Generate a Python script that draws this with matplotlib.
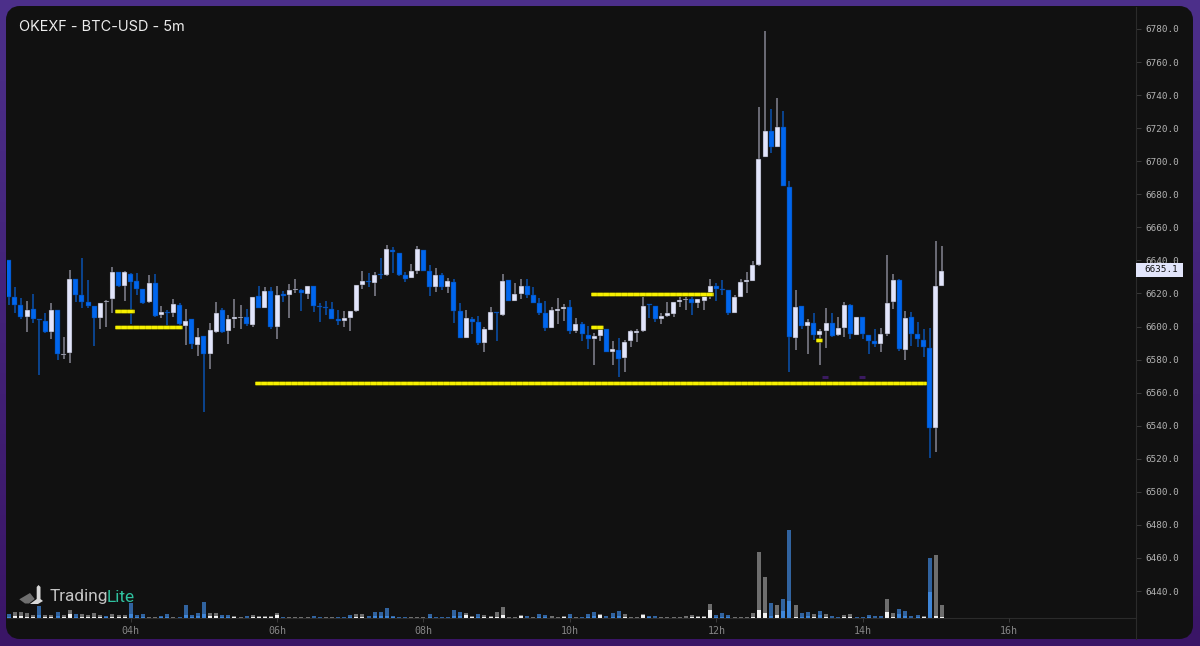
import matplotlib
matplotlib.use("Agg")
import matplotlib.pyplot as plt
import matplotlib.patheffects as pe
import numpy as np
from matplotlib.patches import FancyBboxPatch, Polygon, Rectangle
from matplotlib.transforms import blended_transform_factory

# candles, 5 minute bars, first bar is 20 bars before 04h
opens = [
    6640.2, 6617.7, 6613.0, 6606.0, 6610.8, 6604.7, 6603.1, 6596.9, 6610.0, 6582.6,
    6583.8, 6628.5, 6618.9, 6614.6, 6612.4, 6605.2, 6614.6, 6616.4, 6633.0, 6624.7,
    6632.0, 6627.5, 6622.5, 6614.6, 6626.1, 6606.8, 6608.8, 6608.0, 6613.0, 6600.5,
    6604.3, 6588.8, 6594.3, 6583.4, 6596.7, 6610.2, 6597.3, 6604.7, 6605.4, 6606.0,
    6600.9, 6618.5, 6611.4, 6621.5, 6599.7, 6619.5, 6618.9, 6621.9, 6622.1, 6619.7,
    6624.5, 6612.2, 6611.8, 6610.8, 6604.5, 6603.1, 6605.0, 6609.4, 6625.3, 6627.5,
    6626.5, 6631.6, 6631.2, 6646.1, 6644.7, 6631.2, 6629.4, 6633.6, 6646.3, 6633.6,
    6624.1, 6631.0, 6623.9, 6627.1, 6609.4, 6593.3, 6604.7, 6602.9, 6589.8, 6598.1,
    6608.6, 6606.8, 6627.9, 6615.6, 6619.5, 6624.7, 6618.9, 6614.4, 6608.4, 6599.3,
    6609.4, 6610.6, 6612.0, 6597.1, 6601.3, 6594.9, 6592.5, 6594.3, 6598.5, 6584.6,
    6586.0, 6580.8, 6591.1, 6596.1, 6597.1, 6613.7, 6612.5, 6604.6, 6606.4, 6607.8,
    6615.1, 6616.1, 6616.5, 6614.1, 6615.7, 6618.5, 6624.8, 6622.8, 6622.1, 6608.4,
    6617.9, 6627.2, 6627.8, 6637.5, 6702.3, 6718.4, 6708.6, 6721.0, 6684.4, 6592.9,
    6612.3, 6600.2, 6602.4, 6594.9, 6597.3, 6602.0, 6594.7, 6599.2, 6613.3, 6595.1,
    6605.8, 6594.7, 6591.1, 6589.7, 6595.5, 6614.7, 6628.4, 6586.0, 6606.0, 6595.7,
    6592.1, 6587.3, 6538.8, 6624.8,
]
highs = [
    6640.2, 6623.7, 6617.1, 6615.4, 6619.7, 6604.7, 6608.0, 6614.4, 6610.0, 6593.9,
    6634.2, 6628.5, 6641.7, 6628.1, 6612.4, 6614.4, 6615.8, 6635.8, 6633.0, 6633.4,
    6632.2, 6632.2, 6622.5, 6631.4, 6631.8, 6612.6, 6610.0, 6616.7, 6614.4, 6610.8,
    6604.3, 6598.9, 6594.3, 6601.9, 6614.6, 6611.0, 6607.0, 6616.4, 6612.8, 6610.4,
    6618.1, 6624.5, 6623.7, 6623.9, 6624.5, 6621.5, 6625.5, 6628.5, 6622.5, 6624.7,
    6624.7, 6614.0, 6615.2, 6614.8, 6610.0, 6609.4, 6609.6, 6625.3, 6633.4, 6632.2,
    6632.8, 6641.5, 6649.1, 6647.9, 6644.7, 6632.8, 6637.6, 6648.7, 6646.3, 6637.2,
    6635.6, 6632.2, 6629.2, 6628.5, 6614.4, 6610.0, 6605.6, 6606.4, 6599.9, 6612.0,
    6608.8, 6631.6, 6628.1, 6626.5, 6628.5, 6628.5, 6623.7, 6617.1, 6615.6, 6611.6,
    6617.1, 6613.4, 6616.0, 6605.2, 6602.5, 6600.4, 6595.9, 6600.0, 6598.5, 6591.3,
    6593.3, 6591.9, 6597.9, 6598.3, 6617.7, 6613.7, 6612.5, 6608.0, 6614.9, 6615.1,
    6617.7, 6618.1, 6618.1, 6616.5, 6620.5, 6628.8, 6626.2, 6628.2, 6622.1, 6619.1,
    6628.6, 6632.8, 6639.7, 6732.9, 6778.7, 6731.5, 6738.0, 6730.5, 6688.0, 6622.1,
    6612.5, 6604.4, 6608.4, 6598.3, 6611.1, 6608.0, 6606.0, 6614.7, 6613.5, 6605.8,
    6605.8, 6594.9, 6598.5, 6598.9, 6643.1, 6631.6, 6628.6, 6609.6, 6609.0, 6603.0,
    6598.3, 6598.9, 6651.8, 6648.8,
]
lows = [
    6613.0, 6608.4, 6604.3, 6596.9, 6602.3, 6570.7, 6595.9, 6592.4, 6579.7, 6580.5,
    6578.1, 6615.0, 6611.2, 6611.2, 6588.4, 6598.5, 6599.5, 6608.0, 6623.7, 6615.2,
    6601.5, 6619.1, 6613.4, 6614.4, 6606.0, 6605.0, 6599.3, 6605.6, 6598.3, 6589.0,
    6586.6, 6582.0, 6548.5, 6574.5, 6596.3, 6596.3, 6589.6, 6599.1, 6598.7, 6600.3,
    6599.9, 6611.4, 6611.4, 6598.7, 6592.2, 6615.0, 6605.2, 6620.1, 6609.6, 6616.7,
    6608.8, 6602.5, 6606.8, 6604.3, 6600.9, 6599.9, 6597.5, 6609.0, 6622.5, 6623.7,
    6618.5, 6628.5, 6630.8, 6632.2, 6630.8, 6626.9, 6629.4, 6631.6, 6633.8, 6618.5,
    6621.1, 6622.1, 6620.1, 6602.3, 6592.8, 6593.3, 6595.5, 6588.6, 6584.4, 6598.1,
    6591.4, 6606.4, 6615.4, 6615.6, 6616.7, 6617.5, 6614.0, 6607.2, 6597.5, 6599.3,
    6601.3, 6603.5, 6595.5, 6596.3, 6591.0, 6586.6, 6577.0, 6591.3, 6584.4, 6577.0,
    6569.7, 6572.3, 6587.9, 6590.9, 6596.9, 6605.0, 6602.8, 6601.8, 6606.0, 6606.0,
    6612.1, 6610.2, 6607.0, 6611.1, 6609.8, 6616.9, 6615.7, 6619.3, 6607.0, 6608.4,
    6617.9, 6620.5, 6627.8, 6636.5, 6702.3, 6704.7, 6708.6, 6685.0, 6572.5, 6585.8,
    6598.6, 6583.2, 6591.9, 6576.6, 6587.3, 6593.5, 6594.5, 6593.9, 6592.7, 6594.9,
    6592.5, 6583.4, 6587.9, 6584.4, 6594.5, 6610.8, 6585.0, 6579.8, 6588.3, 6587.9,
    6581.8, 6520.3, 6524.3, 6624.8,
]
closes = [
    6618.1, 6613.2, 6606.0, 6610.0, 6604.5, 6603.9, 6596.9, 6610.0, 6583.4, 6583.6,
    6628.5, 6619.1, 6614.8, 6612.4, 6605.4, 6614.4, 6615.6, 6633.2, 6624.7, 6632.8,
    6626.7, 6622.7, 6614.0, 6626.1, 6606.6, 6608.8, 6608.2, 6613.6, 6601.3, 6603.5,
    6589.2, 6593.9, 6583.4, 6598.1, 6608.4, 6596.5, 6604.7, 6605.6, 6606.0, 6601.3,
    6617.7, 6611.4, 6621.7, 6599.7, 6619.1, 6618.7, 6621.9, 6622.5, 6620.1, 6624.5,
    6612.2, 6611.6, 6611.2, 6604.3, 6603.3, 6605.2, 6609.6, 6625.3, 6627.3, 6626.7,
    6631.2, 6631.0, 6646.9, 6644.9, 6631.2, 6628.9, 6633.6, 6646.9, 6633.8, 6624.1,
    6631.0, 6623.7, 6627.3, 6609.4, 6593.3, 6605.0, 6602.9, 6589.8, 6598.3, 6608.6,
    6608.0, 6627.7, 6615.6, 6619.5, 6624.7, 6618.9, 6614.4, 6608.4, 6599.1, 6609.8,
    6610.6, 6612.0, 6597.3, 6601.3, 6595.5, 6592.5, 6594.5, 6599.0, 6584.8, 6586.2,
    6580.6, 6590.5, 6597.5, 6597.1, 6612.7, 6612.9, 6604.6, 6606.4, 6608.0, 6615.1,
    6616.1, 6616.7, 6614.1, 6616.5, 6618.5, 6624.6, 6622.6, 6622.0, 6608.4, 6617.9,
    6627.0, 6628.0, 6637.5, 6701.3, 6718.4, 6708.6, 6721.0, 6685.0, 6593.5, 6611.7,
    6600.4, 6602.6, 6594.9, 6597.5, 6602.2, 6594.3, 6598.9, 6613.3, 6595.7, 6605.6,
    6595.3, 6591.3, 6589.7, 6595.5, 6614.1, 6628.2, 6586.4, 6605.4, 6595.3, 6592.3,
    6587.7, 6538.8, 6624.6, 6633.6,
]

# volume: total, the bright inner part, and side (b = blue, g = grey)
vol_total = [
    4, 6, 6, 5, 3, 12, 3, 3, 6, 3, 8, 4, 4, 3, 5, 3, 2, 4, 3, 3,
    15, 3, 4, 1.5, 1.5, 2, 4, 1.5, 1.5, 13, 3.5, 5.5, 16, 5, 5, 3, 3, 2, 1, 2,
    3, 2, 2, 2, 5, 1, 1, 1, 1, 1, 2, 1.5, 1, 1, 1, 1, 3, 4, 4, 2,
    6, 6, 10, 2.5, 1.5, 1.5, 1, 1, 1, 4, 1.5, 1, 1, 8.5, 6, 5, 2, 4, 3, 2,
    6, 11, 1, 1, 3, 2, 1.5, 4, 3.5, 2, 1, 2, 4, 1.5, 1.5, 4, 6, 4, 2.5, 5,
    7, 4, 1.5, 1, 4, 2.5, 2, 1, 1, 1, 1.5, 2, 3.5, 2.5, 2.5, 14, 3.5, 5, 3.5, 1,
    1, 1, 5, 66, 41, 15, 13, 19, 88, 13, 5, 6.5, 4, 7, 4, 2, 1, 3, 4, 1,
    1, 3, 2, 2, 19, 5, 9, 7, 2.5, 3, 2.5, 60, 63, 13,
]
vol_inner = [
    1, 2, 2, 1.5, 1, 3, 1, 1, 2, 1, 4, 1, 1, 1, 1.5, 1, 1, 1.5, 1, 1,
    4, 1, 1, 0.5, 0.5, 1, 1, 0.5, 0.5, 3, 1, 2, 4, 2, 2, 1, 1, 1, 0.5, 0.5,
    1, 1, 1, 1, 3, 0.5, 0.5, 0.5, 0.5, 0.5, 0.5, 0.5, 0.5, 0.5, 0.5, 0.5, 1, 1, 1, 0.5,
    2, 2, 2, 1, 0.5, 0.5, 0.5, 0.5, 0.5, 1, 0.5, 0.5, 0.5, 2, 2, 3, 1, 1, 1, 1,
    1.5, 3, 0.5, 0.5, 2, 0.5, 0.5, 1, 1, 0.5, 0.5, 1, 1, 0.5, 0.5, 1, 2, 3, 0.5, 1,
    2, 1, 0.5, 0.5, 3, 1, 0.5, 0.5, 0.5, 0.5, 0.5, 0.5, 1, 1, 1, 8, 1, 1.5, 1, 0.5,
    0.5, 0.5, 1, 8, 5, 2, 3, 7, 17, 1, 1, 2, 1, 3, 1, 0.5, 0.5, 1, 1, 0.5,
    0.5, 1, 0.5, 0.5, 6, 1, 4, 2, 0.5, 1, 1, 26, 2, 1,
]
vol_side = (
    "bggggbggbg" "gbggggbggg" "bbbggbbgbb" "bbbggbbggb" "gggggbggggb"
    "bggbbbggbb" "bbbbbgggbb" "bbbbggbggg" "ggggbgbbgg" "gbgbbbgbbb"
    "ggggbbgggg" "gggggbbbgg" "ggggbgbbgb" "bgbgbbggbb" "bbbggbbbbg" "bgg"
)

# yellow levels: price, start hour, end hour
level_prices = [6609.6, 6600.0, 6565.6, 6619.7, 6600.0, 6591.8]
level_starts = [3.790, 3.790, 5.702, 10.284, 10.284, 13.362]
level_ends = [4.041, 4.705, 14.861, 11.951, 10.448, 13.444]

# small purple marks
mark_prices = [6569.5, 6569.5]
mark_starts = [13.448, 13.949]
mark_ends = [13.530, 14.031]

price_ticks = list(range(6440, 6781, 20))
hour_ticks = [4, 6, 8, 10, 12, 14, 16]
hour_labels = ["04h", "06h", "08h", "10h", "12h", "14h", "16h"]
last_price = 6635.1

W, H = 1200, 646
PX = 72 / 100  # points per pixel

BG = "#111111"
WHITE = "#e2e5fb"
BLUE = "#0066ee"

fig = plt.figure(figsize=(W / 100, H / 100), dpi=100)

# purple frame + dark card
chrome = fig.add_axes([0, 0, 1, 1], zorder=0)
chrome.set_xlim(0, W)
chrome.set_ylim(H, 0)
chrome.axis("off")
top = np.array([0x4c, 0x2f, 0x8a])
bottom = np.array([0x3a, 0x15, 0x66])
grad = np.linspace(0, 1, 64)[:, None, None] * (bottom - top) + top
chrome.imshow(grad / 255, extent=(0, W, H, 0), aspect="auto")
chrome.add_patch(FancyBboxPatch((13, 13), 1173, 619, boxstyle="round,pad=0,rounding_size=7",
                                fc=BG, ec=BG, lw=14 * PX))
chrome.set_xlim(0, W)
chrome.set_ylim(H, 0)

# logo
chrome.add_patch(Polygon([(19.3, 599.3), (30, 593), (34.7, 599), (29, 603.5), (25, 603.5)], fc="#6f6f6f", ec="none"))
chrome.add_patch(Polygon([(36.7, 587), (38.5, 585), (40.5, 587), (40.5, 599), (43, 601), (38, 604), (30, 604),
                          (36.7, 599)], fc="#d8d8d8", ec="none"))
chrome.text(49.5, 597, "Trading", color="#c4c4c4", fontsize=12.4, family="Roboto", va="center", ha="left")
chrome.text(107, 597, "Lite", color="#2fc19f", fontsize=12.4, family="Roboto", va="center", ha="left")
chrome.text(19, 27, "OKEXF - BTC-USD - 5m", color="#ececec", fontsize=10.45, family="Inter", va="center", ha="left")

# main price axes, same pixel box for volume
x0, x1, y0, y1 = 7, 1136, 7, 639
ax = fig.add_axes([x0 / W, 1 - y1 / H, (x1 - x0) / W, (y1 - y0) / H], zorder=2)
ax.patch.set_alpha(0)
ax.set_xlim(2.310, 17.734)
ax.set_ylim(6411.0, 6793.3)

vol = ax.twinx()
vol.set_zorder(1)
ax.set_zorder(2)
vol.patch.set_alpha(0)
vol.set_ylim(-21, 611)
vol.axis("off")

times = 4 + (np.arange(len(opens)) - 20) / 12
o, h, l, c = map(np.array, (opens, highs, lows, closes))
up = c >= o
body_w = 5.0 / 73.2
vol_w = 4.0 / 73.2

ax.vlines(times[up], l[up], h[up], color="#80808c", lw=1.6 * PX, zorder=3)
ax.vlines(times[~up], l[~up], h[~up], color="#0a4fa8", lw=1.6 * PX, zorder=3)
ax.bar(times[up], (c - o)[up], bottom=o[up], width=body_w, color=WHITE,
       edgecolor="#33333a", lw=0.3, zorder=4)
ax.bar(times[~up], (c - o)[~up], bottom=o[~up], width=body_w, color=BLUE,
       edgecolor="#0b3a78", lw=0.3, zorder=4)

# volume bars
vt = np.array(vol_total, dtype=float)
vi = np.array(vol_inner, dtype=float)
is_blue = np.array([s == "b" for s in vol_side])
vol.bar(times[is_blue], vt[is_blue], width=vol_w, color="#31639f", lw=0)
vol.bar(times[is_blue], vi[is_blue], width=vol_w, color="#3f86d8", lw=0)
vol.bar(times[~is_blue], vt[~is_blue], width=vol_w, color="#6e6e6e", lw=0)
vol.bar(times[~is_blue], vi[~is_blue], width=vol_w, color="#f0f0f0", lw=0)
vol.axhline(0, color="#2b2b2b", lw=0.8, zorder=0)

# levels, drawn as a dark edge, a base and small cells on top
for p, s, e in zip(level_prices, level_starts, level_ends):
    ax.hlines(p, s, e, color="#d8d200", lw=3.2 * PX, zorder=6,
              path_effects=[pe.Stroke(linewidth=4.6 * PX, foreground="#4a4a00"), pe.Normal()])
    ax.hlines(p, s, e, color="#f6f000", lw=3.2 * PX, zorder=7, linestyles=[(0, (1.6, 0.3))])
for p, s, e in zip(mark_prices, mark_starts, mark_ends):
    ax.hlines(p, s, e, color="#3a1a60", lw=3 * PX, zorder=6)

# axes styling
for name, sp in ax.spines.items():
    sp.set_visible(name == "right")
    sp.set_color("#2b2b2b")
    sp.set_linewidth(0.8)
ax.yaxis.tick_right()
ax.set_yticks(price_ticks)
ax.set_yticklabels([f"{t:.1f}" for t in price_ticks], family="DejaVu Sans Mono", fontsize=6.7, color="#b4b4b4")
ax.tick_params(axis="y", length=3.5, width=0.7, color="#3a3a3a", pad=3)
ax.set_xticks(hour_ticks)
ax.set_xticklabels(hour_labels, family="DejaVu Sans Mono", fontsize=7.2, color="#858585")
ax.tick_params(axis="x", length=0, pad=-9.2)
vol.vlines(hour_ticks, -3.5, 0, color="#3a3a3a", lw=0.7)

# last price tag
tr = blended_transform_factory(ax.transAxes, ax.transData)
tag_h = 13.4 / 1.653
ax.add_patch(Rectangle((1.0, last_price - tag_h / 2 - 0.8), 46.5 / (x1 - x0), tag_h, transform=tr,
                       fc=WHITE, ec="none", zorder=8, clip_on=False))
ax.text(1 + 8.8 / (x1 - x0), last_price - 0.8, f"{last_price:.1f}", transform=tr, family="DejaVu Sans Mono",
        fontsize=6.7, color="#111111", va="center", ha="left", zorder=9, clip_on=False)

fig.savefig("out.png", dpi=100)
